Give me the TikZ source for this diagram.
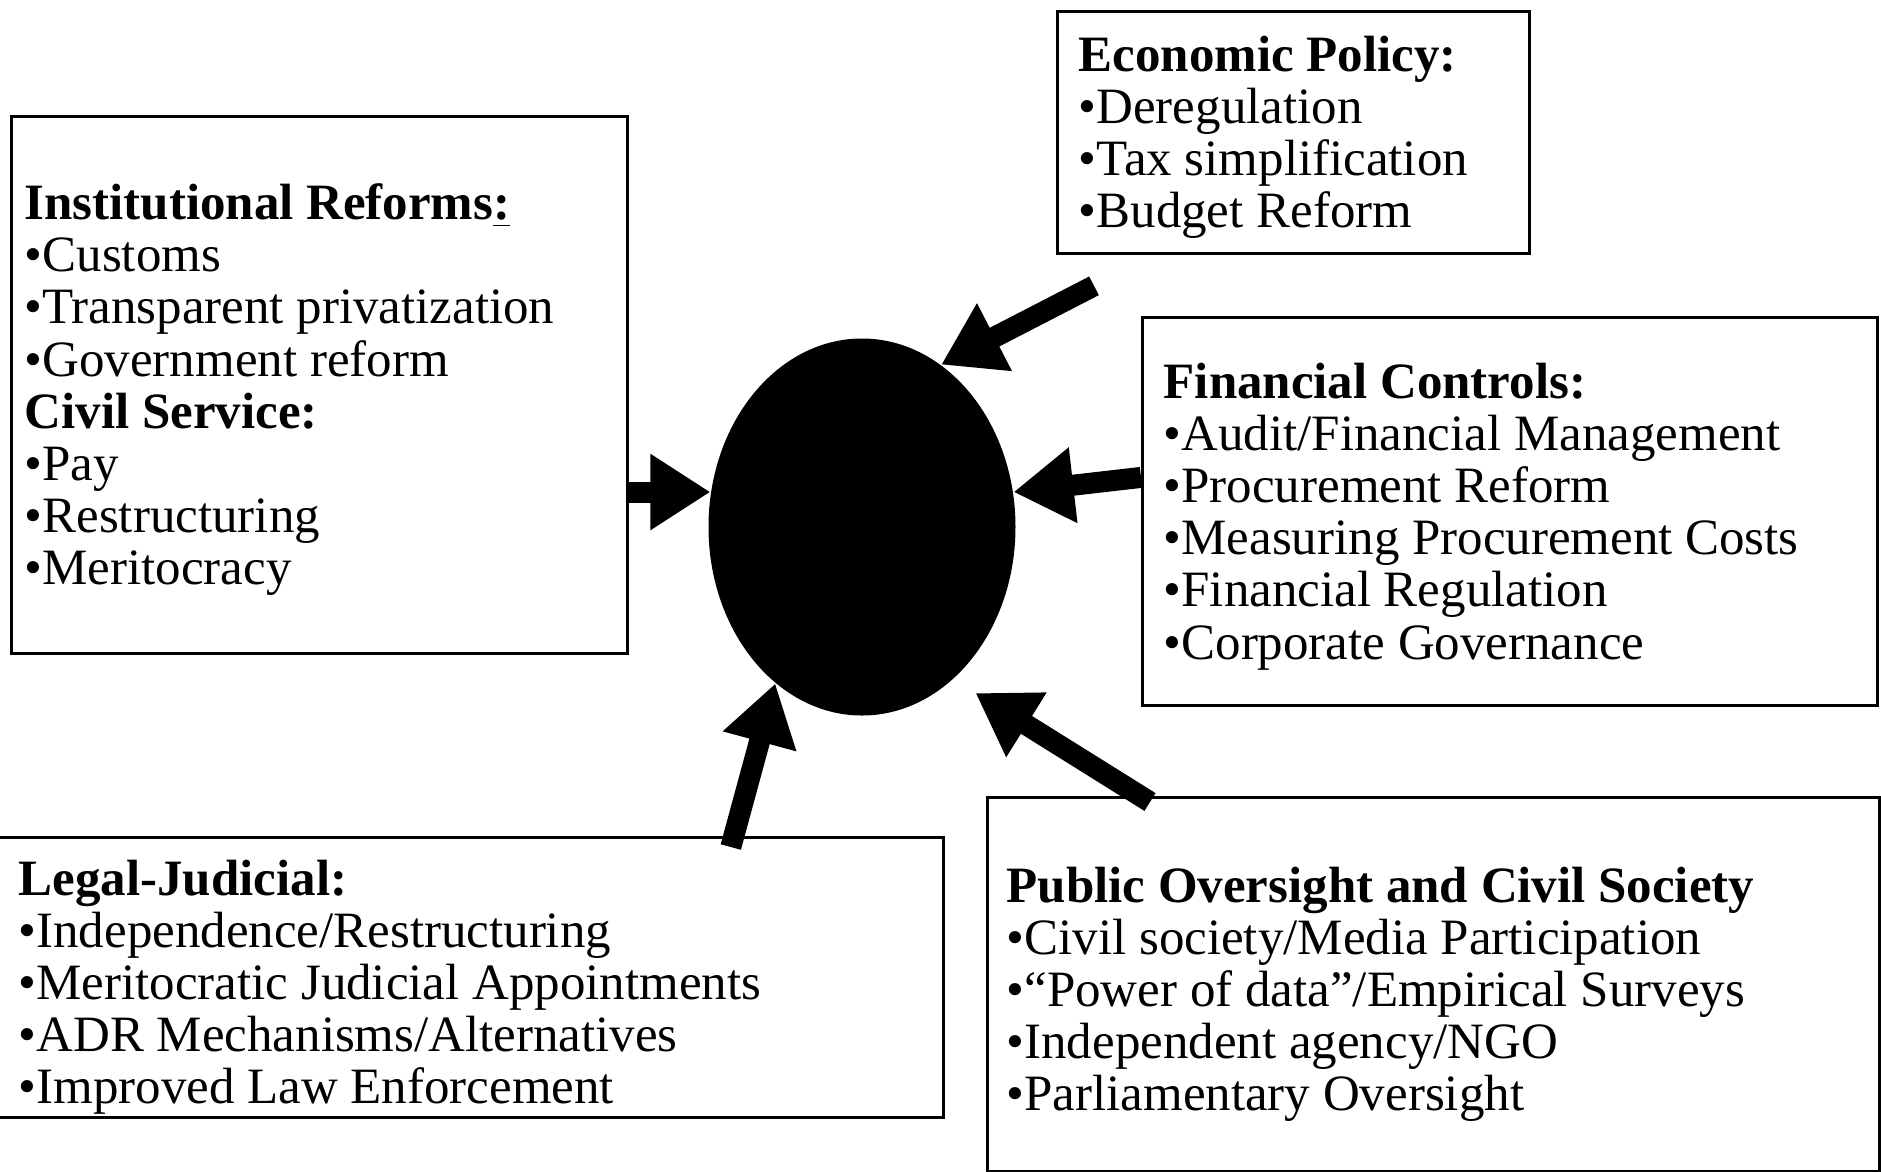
\documentclass[tikz,border=0pt]{standalone}
\usepackage{fontspec}
\setmainfont{Liberation Serif}
\usetikzlibrary{arrows.meta, positioning, shapes.geometric}
\tikzset{
    box/.style={draw, line width=0.8pt, rectangle, inner sep=0pt, anchor=north west}, % riquadro vuoto
    voci/.style={inner sep=0pt, align=left, anchor=north west, font=\fontsize{14.5}{14.85}\selectfont}, % titolo ed elenco
}
\tikzstyle{freccia} = [line width=2.1mm, -{Triangle[length=6mm, width=7.2mm]}]

\begin{document}
\begin{tikzpicture}
    \useasboundingbox (0,0) rectangle (18.81,-11.71);
    % Riquadri
    \node[box, minimum width=6.16cm, minimum height=5.37cm] (inst) at (0.10,-1.15) {};
    \node[box, minimum width=4.72cm, minimum height=2.42cm] (econ) at (10.56,-0.10) {};
    \node[box, minimum width=7.35cm, minimum height=3.88cm] (fin) at (11.41,-3.16) {};
    \node[box, minimum width=9.52cm, minimum height=2.80cm] (legal) at (-0.10,-8.36) {};
    \node[box, minimum width=8.92cm, minimum height=3.74cm] (public) at (9.86,-7.96) {};

    % Testi
    \node[voci] (inst testo) at ([shift={(0.14,-0.68)}]inst.north west)
        {\textbf{Institutional Reforms\underline{:}}\\•Customs\\•Transparent privatization\\•Government reform\\\textbf{Civil Service:}\\•Pay\\•Restructuring\\•Meritocracy};
    \node[voci] (econ testo) at ([shift={(0.22,-0.25)}]econ.north west)
        {\textbf{Economic Policy:}\\•Deregulation\\•Tax simplification\\•Budget Reform};
    \node[voci] (fin testo) at ([shift={(0.22,-0.46)}]fin.north west)
        {\textbf{Financial Controls:}\\•Audit/Financial Management\\•Procurement Reform\\•Measuring Procurement Costs\\•Financial Regulation\\•Corporate Governance};
    \node[voci] (legal testo) at ([shift={(0.28,-0.23)}]legal.north west)
        {\textbf{Legal-Judicial:}\\•Independence/Restructuring\\•Meritocratic Judicial Appointments\\•ADR Mechanisms/Alternatives\\•Improved Law Enforcement};
    \node[voci] (public testo) at ([shift={(0.20,-0.70)}]public.north west)
        {\textbf{Public Oversight and Civil Society}\\•Civil society/Media Participation\\•“Power of data”/Empirical Surveys\\•Independent agency/NGO\\•Parliamentary Oversight};

    % Centro
    \node[ellipse, fill=black, minimum width=3.07cm, minimum height=3.77cm, inner sep=0pt] (centro) at (8.62,-5.27) {};

    % Frecce
    \coordinate (coda inst) at (inst.east |- centro.167);
    \coordinate (coda econ) at ([shift={(0.38,-0.31)}]econ.south west);
    \coordinate (coda fin) at ([yshift=3.4mm]fin.west);
    \coordinate (coda legal) at ([shift={(-2.14,-0.11)}]legal.north east);
    \coordinate (coda public) at ([shift={(1.64,-0.06)}]public.north west);
    \draw[freccia] (coda inst) -- (centro.167);
    \draw[freccia] (coda econ) -- (centro.64);
    \draw[freccia] (coda fin) -- (centro.13);
    \draw[freccia] (coda legal) -- (centro.241);
    \draw[freccia, shorten >=2.6mm] (coda public) -- (centro.301);
\end{tikzpicture}
\end{document}
